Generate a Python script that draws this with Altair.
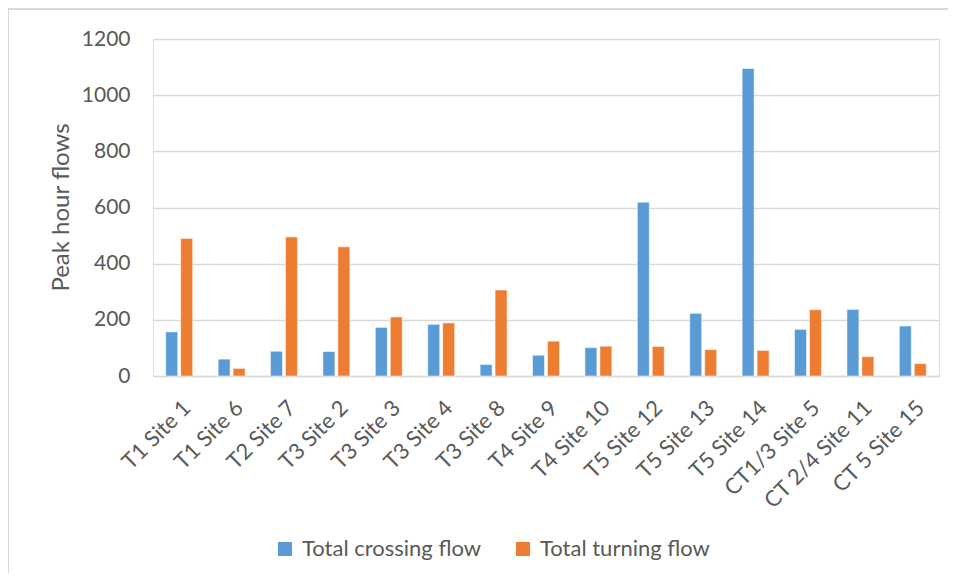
import altair as alt
import pandas as pd

sites = ["T1 Site 1", "T1 Site 6", "T2 Site 7", "T3 Site 2", "T3 Site 3", "T3 Site 4",
         "T3 Site 8", "T4 Site 9", "T4 Site 10", "T5 Site 12", "T5 Site 13", "T5 Site 14",
         "CT1/3 Site 5", "CT 2/4 Site 11", "CT 5 Site 15"]
crossing = [157, 60, 88, 87, 173, 184, 41, 74, 101, 619, 223, 1095, 166, 237, 178]
turning = [490, 27, 495, 460, 210, 189, 306, 124, 106, 105, 94, 91, 236, 69, 44]
series_names = ["Total crossing flow", "Total turning flow"]
colors = ["#5B9BD5", "#ED7D31"]
y_ticks = [0, 200, 400, 600, 800, 1000, 1200]

rows = []
for s, c, t in zip(sites, crossing, turning):
    rows.append({"site": s, "series": series_names[0], "value": c})
    rows.append({"site": s, "series": series_names[1], "value": t})
df = pd.DataFrame(rows)

FONT = "Lato"
TXT = "#595959"
GRID = "#D9D9D9"

bars = alt.Chart(df).mark_bar(stroke="white", strokeWidth=1, strokeOpacity=0.5).encode(
    x=alt.X("site:N", sort=sites,
            scale=alt.Scale(paddingInner=0.486, paddingOuter=0.243),
            axis=alt.Axis(title=None, labelAngle=-45, labelAlign="right", labelBaseline="middle",
                          labelPadding=28, labelOffset=8, ticks=False, domain=True, domainColor=GRID,
                          domainWidth=1.5, labelFontSize=22, labelColor=TXT, labelFont=FONT,
                          labelLimit=0)),
    xOffset=alt.XOffset("series:N", sort=series_names,
                        scale=alt.Scale(paddingInner=0.2, paddingOuter=0)),
    y=alt.Y("value:Q", scale=alt.Scale(domain=[0, 1200], nice=False),
            axis=alt.Axis(title="Peak hour flows", values=y_ticks, format="d", domain=False, ticks=False,
                          grid=True, gridColor=GRID, gridWidth=1.5, labelPadding=23,
                          labelFontSize=21, labelColor=TXT, labelFont=FONT,
                          titleFontSize=24, titleColor=TXT, titleFont=FONT, titleFontWeight="normal",
                          titleX=-85, titleY=168, titleBaseline="alphabetic", titleAngle=270)),
    color=alt.Color("series:N", sort=series_names,
                    scale=alt.Scale(domain=series_names, range=colors),
                    legend=alt.Legend(title=None, orient="none", direction="horizontal",
                                      legendX=121, legendY=499, symbolType="square",
                                      symbolSize=196, symbolStrokeWidth=0, labelOffset=6,
                                      columnPadding=30, labelFontSize=22, labelColor=TXT,
                                      labelFont=FONT, labelLimit=0)),
)

frame_top = alt.Chart(df).mark_rule(color=GRID, strokeWidth=2, clip=False).encode(
    x=alt.value(-145), x2=alt.value(803), y=alt.value(-30))
frame_left = alt.Chart(df).mark_rule(color=GRID, strokeWidth=2, clip=False).encode(
    x=alt.value(-145), y=alt.value(-30), y2=alt.value(534))

chart = alt.layer(frame_top, frame_left, bars).properties(
    width=786, height=337,
    autosize=alt.AutoSizeParams(type="none"),
    padding={"left": 145, "top": 31, "right": 9, "bottom": 197},
).configure_view(stroke=None).configure(font=FONT)

chart.save("out.html", embed_options={"renderer": "svg", "actions": False})
